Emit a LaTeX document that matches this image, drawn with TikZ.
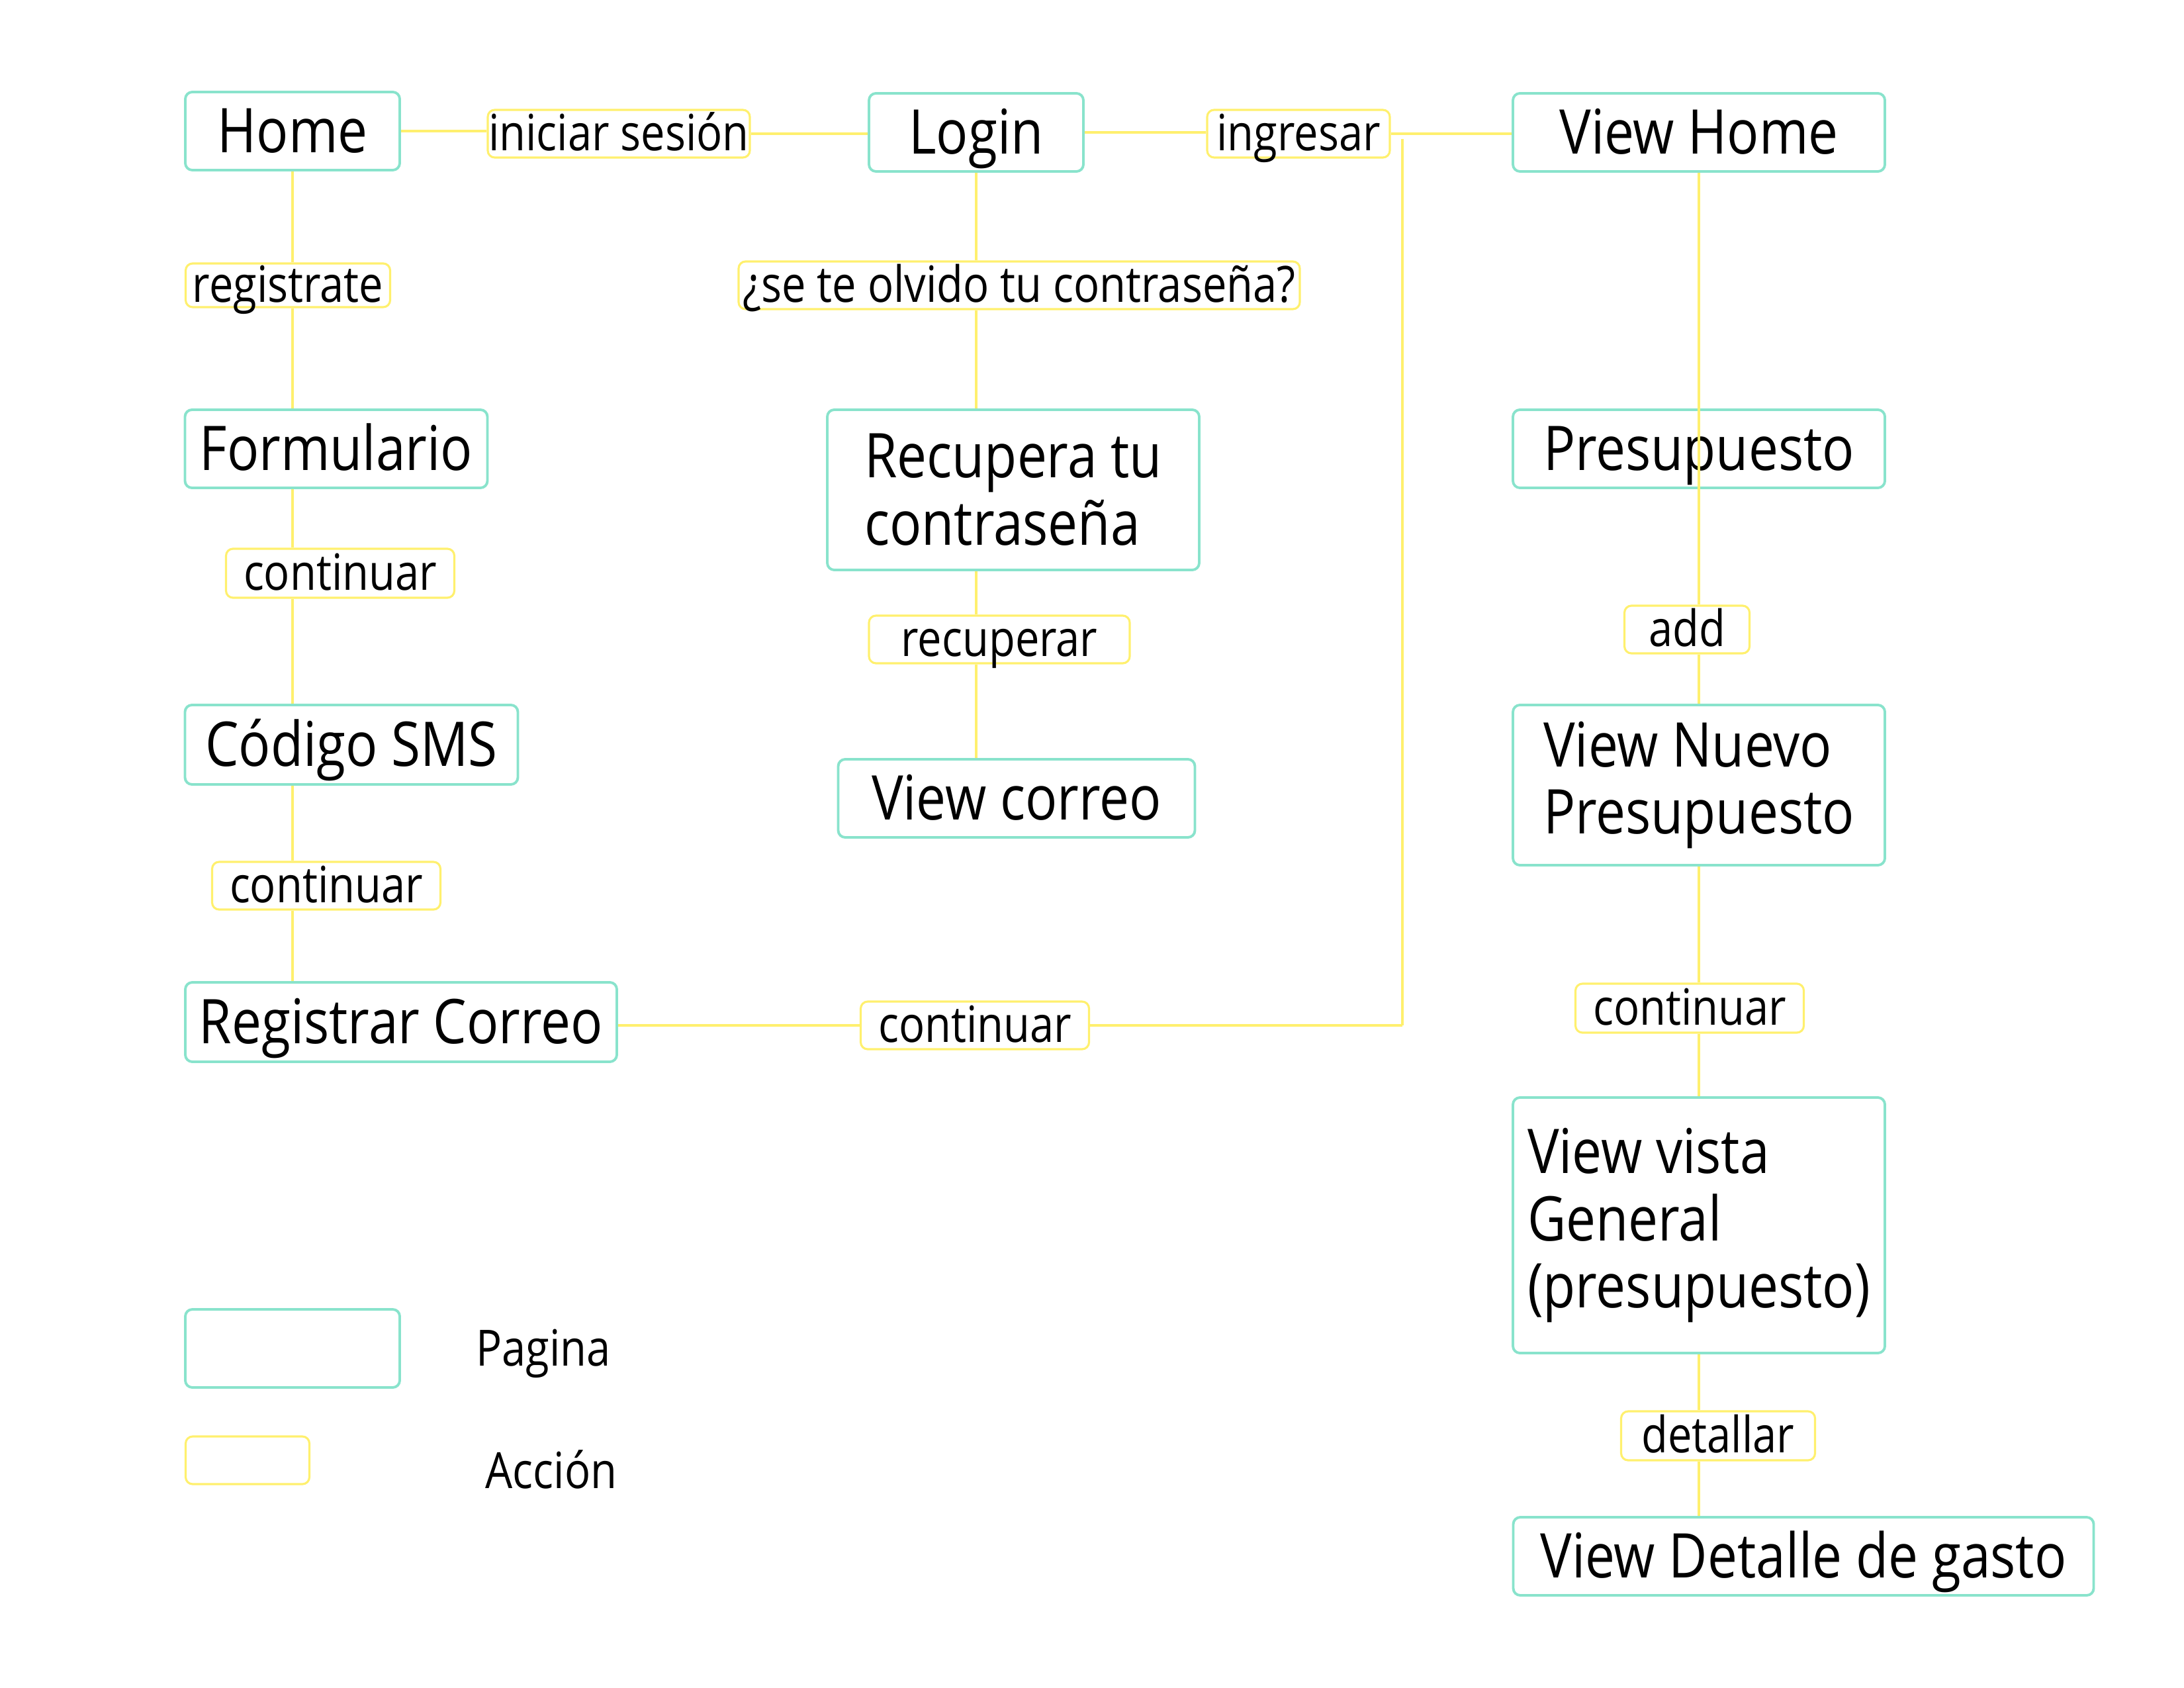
\documentclass[tikz,border=0pt]{standalone}
\usepackage{fontspec}
\setmainfont{Open Sans}[FakeStretch=0.86]
\usepackage{tikz}
\usetikzlibrary{calc, positioning}
\definecolor{pagecol}{RGB}{137,227,204}
\definecolor{actcol}{RGB}{255,240,110}
\tikzstyle{page}=[draw=pagecol, line width=1.1pt, rounded corners=3pt, shape=rectangle, align=left, inner sep=0pt, font=\fontsize{26.5}{29}\selectfont]
\tikzstyle{pageline}=[page, text height=18.5pt, text depth=0pt]
\tikzstyle{accion}=[draw=actcol, line width=0.9pt, rounded corners=3pt, shape=rectangle, inner sep=0pt, text height=14.5pt, text depth=0pt, font=\fontsize{21.5}{24}\selectfont]
\tikzstyle{link}=[draw=actcol, line width=1.15pt]
\tikzstyle{hlink}=[draw=actcol, line width=1.4pt]

\begin{document}
\begin{tikzpicture}
\useasboundingbox (0,0) rectangle (33,-25.5);
% the pages
\node[pageline, minimum width=3.24cm, minimum height=1.18cm] (home) at (4.42,-1.98) {Home};
\node[pageline, minimum width=3.24cm, minimum height=1.18cm] (login) at (14.75,-2.00) {Login};
\node[pageline, minimum width=5.62cm, minimum height=1.18cm] (viewhome) at (25.67,-2.00) {View Home};
\node[pageline, minimum width=4.57cm, minimum height=1.18cm] (formulario) at (5.08,-6.78) {Formulario};
\node[page, minimum width=5.62cm, minimum height=2.42cm] (recupera) at (15.31,-7.40) {Recupera tu\\contraseña};
\node[pageline, minimum width=5.62cm, minimum height=1.18cm] (presupuesto) at (25.67,-6.78) {Presupuesto};
\node[pageline, minimum width=5.03cm, minimum height=1.20cm] (codigo) at (5.31,-11.25) {Código SMS};
\node[pageline, minimum width=5.39cm, minimum height=1.18cm] (correo) at (15.36,-12.06) {View correo};
\node[page, minimum width=5.62cm, minimum height=2.42cm] (nuevo) at (25.67,-11.86) {View Nuevo\\Presupuesto};
\node[pageline, minimum width=6.52cm, minimum height=1.20cm] (registrar) at (6.06,-15.44) {Registrar Correo};
\node[page, minimum width=5.62cm, minimum height=3.86cm] (general) at (25.67,-18.51) {View vista\\General\\(presupuesto)};
\node[pageline, minimum width=8.77cm, minimum height=1.18cm] (detalle) at (27.25,-23.51) {View Detalle de gasto};
% the actions
\node[accion, minimum width=3.96cm, minimum height=0.72cm] (iniciar) at (9.35,-2.02) {iniciar sesión};
\node[accion, minimum width=2.76cm, minimum height=0.72cm] (ingresar) at (19.62,-2.02) {ingresar};
\node[accion, minimum width=3.09cm, minimum height=0.66cm] (registrate) at (4.35,-4.31) {registrate};
\node[accion, minimum width=8.48cm, minimum height=0.72cm] (olvido) at (15.40,-4.31) {¿se te olvido tu contraseña?};
\node[accion, minimum width=3.45cm, minimum height=0.74cm] (cont1) at (5.14,-8.66) {continuar};
\node[accion, minimum width=3.94cm, minimum height=0.72cm] (recuperar) at (15.10,-9.66) {recuperar};
\node[accion, minimum width=1.89cm, minimum height=0.72cm] (add) at (25.49,-9.51) {add};
\node[accion, minimum width=3.45cm, minimum height=0.72cm] (cont2) at (4.93,-13.38) {continuar};
\node[accion, minimum width=3.45cm, minimum height=0.72cm] (cont3) at (14.73,-15.49) {continuar};
\node[accion, minimum width=3.45cm, minimum height=0.74cm] (cont4) at (25.53,-15.23) {continuar};
\node[accion, minimum width=2.93cm, minimum height=0.74cm] (detallar) at (25.96,-21.69) {detallar};
% the legend
\node[page, minimum width=3.24cm, minimum height=1.18cm] (leypage) at (4.42,-20.37) {};
\node[accion, minimum width=1.87cm, minimum height=0.72cm] (leyaccion) at (3.74,-22.06) {};
\node[font=\fontsize{21.5}{24}\selectfont] (pagina) at (8.21,-20.45) {Pagina};
\node[font=\fontsize{21.5}{24}\selectfont] (accionlbl) at (8.33,-22.20) {Acción};
% the links
\coordinate (jn) at (21.19,-2.10);
\draw[hlink] (home.east) -- (home.east -| iniciar.west);
\draw[hlink] (iniciar.east) -- (iniciar.east -| login.west);
\draw[hlink] (login.east) -- (login.east -| ingresar.west);
\draw[hlink] (ingresar.east) -- (ingresar.east -| viewhome.west);
\draw[link] (jn) -- (jn |- cont3.east);
\draw[hlink] (jn |- cont3.east) -- (cont3.east);
\draw[hlink] (cont3.west) -- (cont3.west -| registrar.east);
\draw[link] (home.south) -- (home.south |- registrate.north);
\draw[link] (registrate.south -| home.south) -- (formulario.north -| home.south);
\draw[link] (formulario.south -| home.south) -- (cont1.north -| home.south);
\draw[link] (cont1.south -| home.south) -- (codigo.north -| home.south);
\draw[link] (codigo.south -| home.south) -- (cont2.north -| home.south);
\draw[link] (cont2.south -| home.south) -- (registrar.north -| home.south);
\draw[link] (login.south) -- (login.south |- olvido.north);
\draw[link] (olvido.south -| login.south) -- (recupera.north -| login.south);
\draw[link] (recupera.south -| login.south) -- (recuperar.north -| login.south);
\draw[link] (recuperar.south -| login.south) -- (correo.north -| login.south);
\draw[link] (viewhome.south) -- (viewhome.south |- add.north);
\draw[link] (add.south -| viewhome.south) -- (nuevo.north -| viewhome.south);
\draw[link] (nuevo.south) -- (nuevo.south |- cont4.north);
\draw[link] (cont4.south -| nuevo.south) -- (general.north);
\draw[link] (general.south) -- (general.south |- detallar.north);
\draw[link] (detallar.south -| general.south) -- (detalle.north -| general.south);
\end{tikzpicture}
\end{document}
